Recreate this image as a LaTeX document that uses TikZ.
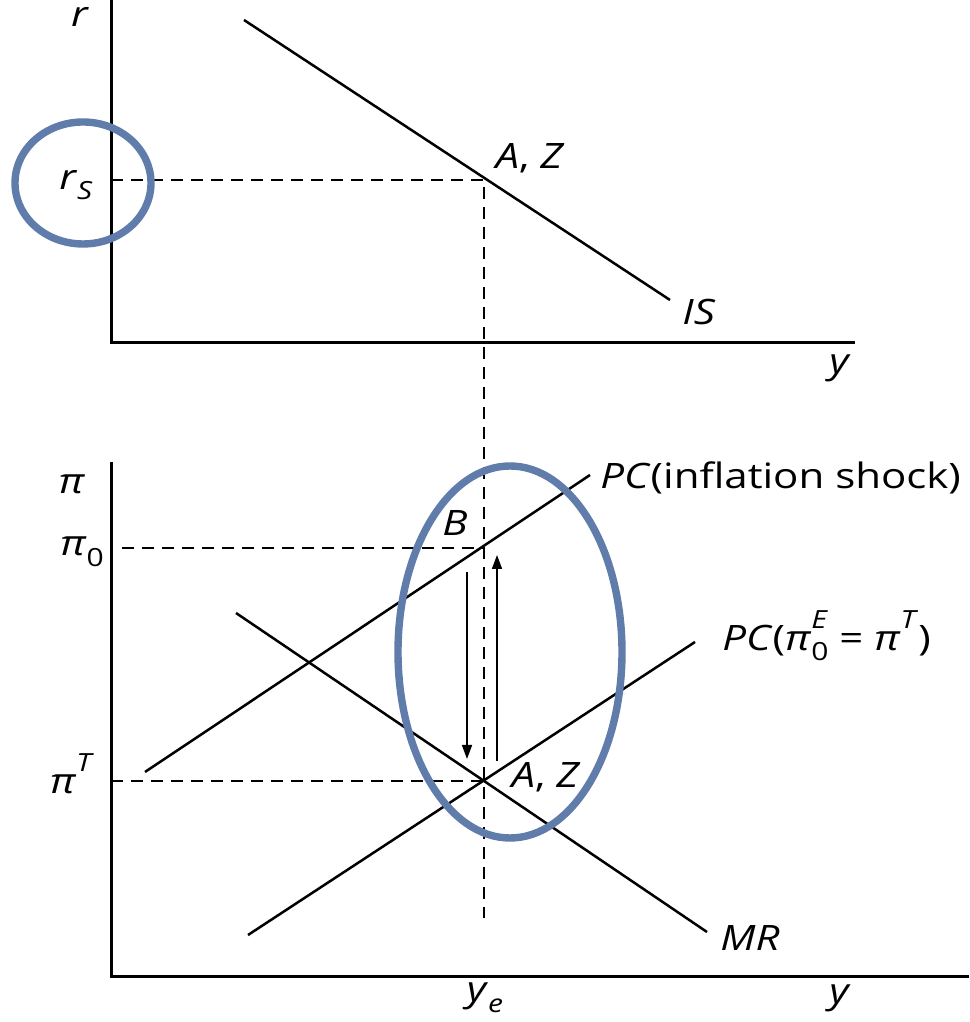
\documentclass[tikz,border=0pt]{standalone}
\usepackage{fontspec}
\setmainfont[FakeStretch=1.2]{Open Sans}
\usetikzlibrary{arrows.meta}
\definecolor{ringblue}{RGB}{96,124,170}
\newcommand{\lowidx}[1]{\raisebox{-0.3em}{\fontsize{12.5}{13}\selectfont #1}}
\newcommand{\highidx}[1]{\raisebox{0.62em}{\fontsize{12.5}{13}\selectfont #1}}

\begin{document}
\begin{tikzpicture}[x=0.5pt,y=0.5pt,
  every node/.style={font=\fontsize{17.5}{21}\selectfont, inner sep=0pt},
  axis/.style={line width=1.5pt},
  curve/.style={line width=1.25pt},
  guide/.style={line width=1.2pt, dash pattern=on 6pt off 4pt},
  ring/.style={draw=ringblue, line width=3.7pt},
  shiftarrow/.style={line width=0.8pt, -{Triangle[length=7pt,width=5pt]}}]
\useasboundingbox (0,0) rectangle (969,1022);
% Top panel: r against y with IS
\coordinate (r top) at (111,1022);
\coordinate (O1) at (111,679);
\coordinate (y1 end) at (855,679);
\draw[axis] (r top) -- (O1) -- (y1 end);
\coordinate (IS start) at (244,1002);
\coordinate (IS end) at (670,722);
\draw[curve] (IS start) -- (IS end);
\coordinate (rs) at (111,842);
\coordinate (AZ1) at (484,842);
\coordinate (ye low) at (484,104);
\draw[guide] (rs) -- (AZ1) -- (ye low);
\node (r lbl) at (80,1005) {\textit{r}};
\node (rs lbl) at (76,837) {\textit{r}\lowidx{\textit{S}}};
\node (AZ1 lbl) at (530,864) {\textit{A}, \textit{Z}};
\node (IS lbl) at (699,710) {\textit{IS}};
\node (y1 lbl) at (840,654) {\textit{y}};
\draw[ring] (83,839) ellipse [x radius=68, y radius=61];
% Bottom panel: pi against y with PC and MR
\coordinate (pi top) at (111,560);
\coordinate (O2) at (111,45);
\coordinate (y2 end) at (969,45);
\draw[axis] (pi top) -- (O2) -- (y2 end);
\coordinate (pi0) at (122,474);
\coordinate (B) at (484,474);
\draw[guide] (pi0) -- (B);
\coordinate (piT) at (111,241);
\coordinate (AZ2) at (484,241);
\draw[guide] (piT) -- (AZ2);
\coordinate (PCs start) at (145,250);
\coordinate (PCs end) at (590,547);
\draw[curve] (PCs start) -- (PCs end);
\coordinate (PC0 start) at (248,87);
\coordinate (PC0 end) at (695,380);
\draw[curve] (PC0 start) -- (PC0 end);
\coordinate (MR start) at (236,409);
\coordinate (MR end) at (707,90);
\draw[curve] (MR start) -- (MR end);
\coordinate (down top) at (467,450);
\coordinate (down tip) at (467,263);
\draw[shiftarrow] (down top) -- (down tip);
\coordinate (up foot) at (497,261);
\coordinate (up tip) at (497,467);
\draw[shiftarrow] (up foot) -- (up tip);
\node (pi lbl) at (72,538) {\textit{π}};
\node (pi0 lbl) at (82,470) {\textit{π}\lowidx{0}};
\node (piT lbl) at (72,248) {\textit{π}\highidx{\textit{T}}};
\node (B lbl) at (455,499) {\textit{B}};
\node (AZ2 lbl) at (546,245) {\textit{A}, \textit{Z}};
\node[anchor=west] (PCs lbl) at (600,544) {\textit{PC}(inflation shock)};
\node[anchor=west] (PC0 lbl) at (722,386) {\textit{PC}(\textit{π}\rlap{\highidx{\textit{E}}}\lowidx{0} = \textit{π}\highidx{\textit{T}})};
\node (MR lbl) at (750,84) {\textit{MR}};
\node (ye lbl) at (485,24) {\textit{y}\lowidx{\textit{e}}};
\node (y2 lbl) at (840,24) {\textit{y}};
\draw[ring] (510,370) ellipse [x radius=112, y radius=186];
\end{tikzpicture}
\end{document}
